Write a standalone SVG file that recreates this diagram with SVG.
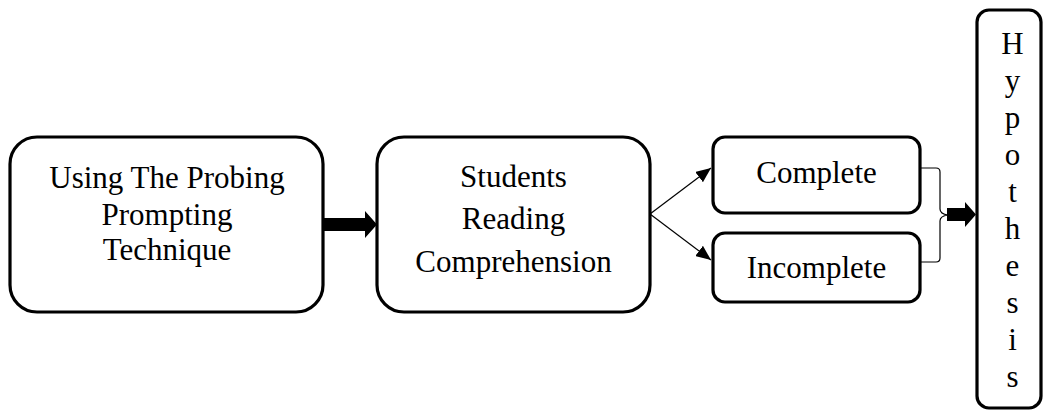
<svg xmlns="http://www.w3.org/2000/svg" width="1043" height="410" viewBox="0 0 1043 410">
<style>
.box{fill:#fff;stroke:#000;stroke-width:3.2}
.t{font-family:"Liberation Serif","Times New Roman",serif;font-size:31px;fill:#000;text-anchor:middle}
.thin{fill:none;stroke:#000;stroke-width:1.2}
</style>
<defs>
<marker id="ah" markerWidth="15" markerHeight="13" refX="15" refY="6.5" orient="auto" markerUnits="userSpaceOnUse">
<path d="M0,0 L15,6.5 L0,13 Z" fill="#000"/>
</marker>
</defs>
<rect width="1043" height="410" fill="#fff"/>
<g id="connectors">
<path d="M323,218 H365 V211 L377,224.5 L365,238 V231 H323 Z" fill="#000"/>
<line class="thin" x1="650" y1="214" x2="711" y2="168" marker-end="url(#ah)"/>
<line class="thin" x1="650" y1="214" x2="711" y2="260" marker-end="url(#ah)"/>
<path class="thin" d="M920,168 H936 Q940,168 940,172 V209 Q940,214 948,215 Q940,216 940,221 V258 Q940,262 936,262 H920"/>
<path d="M947,208 H965 V202 L976,214.5 L965,227 V221 H947 Z" fill="#000"/>
</g>
<g id="n1">
<rect class="box" x="10" y="137" width="313" height="175" rx="27"/>
<text class="t" x="167" y="188">Using The Probing</text>
<text class="t" x="167" y="225">Prompting</text>
<text class="t" x="167" y="260">Technique</text>
</g>
<g id="n2">
<rect class="box" x="377" y="137" width="273" height="175" rx="27"/>
<text class="t" x="513.5" y="187">Students</text>
<text class="t" x="513.5" y="229">Reading</text>
<text class="t" x="513.5" y="272">Comprehension</text>
</g>
<g id="n3">
<rect class="box" x="713" y="137" width="207" height="76" rx="12"/>
<text class="t" x="816.5" y="183">Complete</text>
</g>
<g id="n4">
<rect class="box" x="713" y="233" width="207" height="69" rx="12"/>
<text class="t" x="816.5" y="278">Incomplete</text>
</g>
<g id="n5">
<rect class="box" x="977" y="10" width="64" height="398" rx="12"/>
<text class="t" x="1012.5" y="54">H</text>
<text class="t" x="1012.5" y="91">y</text>
<text class="t" x="1012.5" y="128">p</text>
<text class="t" x="1012.5" y="165">o</text>
<text class="t" x="1012.5" y="202">t</text>
<text class="t" x="1012.5" y="239">h</text>
<text class="t" x="1012.5" y="276">e</text>
<text class="t" x="1012.5" y="313">s</text>
<text class="t" x="1012.5" y="350">i</text>
<text class="t" x="1012.5" y="387">s</text>
</g>
</svg>
